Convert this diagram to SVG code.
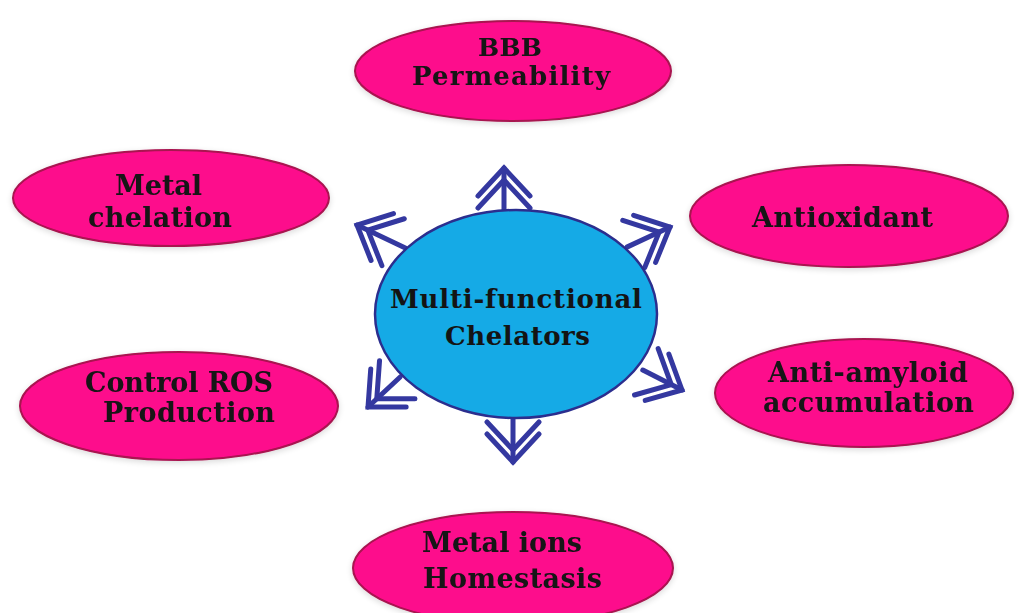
<svg xmlns="http://www.w3.org/2000/svg" xmlns:xlink="http://www.w3.org/1999/xlink" width="1019" height="613" viewBox="0 0 1019 613">
<style>
.pink{fill:#fd0b8c;stroke:#a8134f;stroke-width:2}
.hub{fill:#15aae6;stroke:#2b2e8e;stroke-width:2.5}
.lbl{font-family:"DejaVu Serif","Liberation Serif",serif;font-weight:bold;font-size:27px;fill:#141414}
.arr{fill:none;stroke:#3438a0;stroke-width:5;stroke-linecap:round;stroke-linejoin:miter}
</style>
<defs>
<filter id="sh" x="-10%" y="-10%" width="120%" height="130%">
<feGaussianBlur in="SourceAlpha" stdDeviation="3"/>
<feOffset dx="0" dy="2" result="b"/>
<feComponentTransfer><feFuncA type="linear" slope="0.15"/></feComponentTransfer>
<feMerge><feMergeNode/><feMergeNode in="SourceGraphic"/></feMerge>
</filter>
<path id="chev" d="M-26,28 L0,0 L26,28 M-26,40 L0,12 L26,40"/>
</defs>
<rect width="1019" height="613" fill="#ffffff"/>

<g id="connectors" class="arr">
<g transform="translate(504,168)"><line x1="0" y1="0" x2="0" y2="43"/><use xlink:href="#chev"/></g>
<g transform="translate(513,462) rotate(180)"><line x1="0" y1="0" x2="0" y2="44"/><use xlink:href="#chev"/></g>
<g transform="translate(357,225) rotate(-64.5)"><line x1="0" y1="0" x2="0" y2="53"/><use xlink:href="#chev"/></g>
<g transform="translate(670,227) rotate(65)"><line x1="0" y1="0" x2="0" y2="47"/><use xlink:href="#chev"/></g>
<g transform="translate(368,407) rotate(-133)"><line x1="0" y1="0" x2="0" y2="44"/><use xlink:href="#chev"/></g>
<g transform="translate(682,390) rotate(117)"><line x1="0" y1="0" x2="0" y2="44"/><use xlink:href="#chev"/></g>
</g>

<g id="hub">
<ellipse class="hub" cx="516" cy="314" rx="141" ry="104"/>
<text class="lbl" x="390" y="308" textLength="252" lengthAdjust="spacing" style="font-size:26px">Multi-functional</text>
<text class="lbl" x="445" y="345" textLength="145" lengthAdjust="spacing" style="font-size:26px">Chelators</text>
</g>

<g id="bbb" filter="url(#sh)">
<ellipse class="pink" cx="513" cy="71" rx="158" ry="50"/>
<text class="lbl" x="478" y="56" textLength="64" lengthAdjust="spacing" style="font-size:25px">BBB</text>
<text class="lbl" x="412" y="85" textLength="198" lengthAdjust="spacing" style="font-size:26px">Permeability</text>
</g>

<g id="metal-chelation" filter="url(#sh)">
<ellipse class="pink" cx="171" cy="198" rx="158" ry="48"/>
<text class="lbl" x="115" y="195" textLength="87" lengthAdjust="spacing">Metal</text>
<text class="lbl" x="88" y="227" textLength="144" lengthAdjust="spacing">chelation</text>
</g>

<g id="antioxidant" filter="url(#sh)">
<ellipse class="pink" cx="849" cy="216" rx="159" ry="51"/>
<text class="lbl" x="752" y="227" textLength="181" lengthAdjust="spacing">Antioxidant</text>
</g>

<g id="control-ros" filter="url(#sh)">
<ellipse class="pink" cx="179" cy="406" rx="159" ry="54"/>
<text class="lbl" x="85" y="392" textLength="188" lengthAdjust="spacing">Control ROS</text>
<text class="lbl" x="103" y="422" textLength="172" lengthAdjust="spacing">Production</text>
</g>

<g id="anti-amyloid" filter="url(#sh)">
<ellipse class="pink" cx="864" cy="393" rx="149" ry="54"/>
<text class="lbl" x="768" y="382" textLength="200" lengthAdjust="spacing">Anti-amyloid</text>
<text class="lbl" x="763" y="412" textLength="211" lengthAdjust="spacing">accumulation</text>
</g>

<g id="metal-ions" filter="url(#sh)">
<ellipse class="pink" cx="513" cy="568" rx="160" ry="56"/>
<text class="lbl" x="422" y="552" textLength="160" lengthAdjust="spacing">Metal ions</text>
<text class="lbl" x="423" y="588" textLength="179" lengthAdjust="spacing">Homestasis</text>
</g>
</svg>
